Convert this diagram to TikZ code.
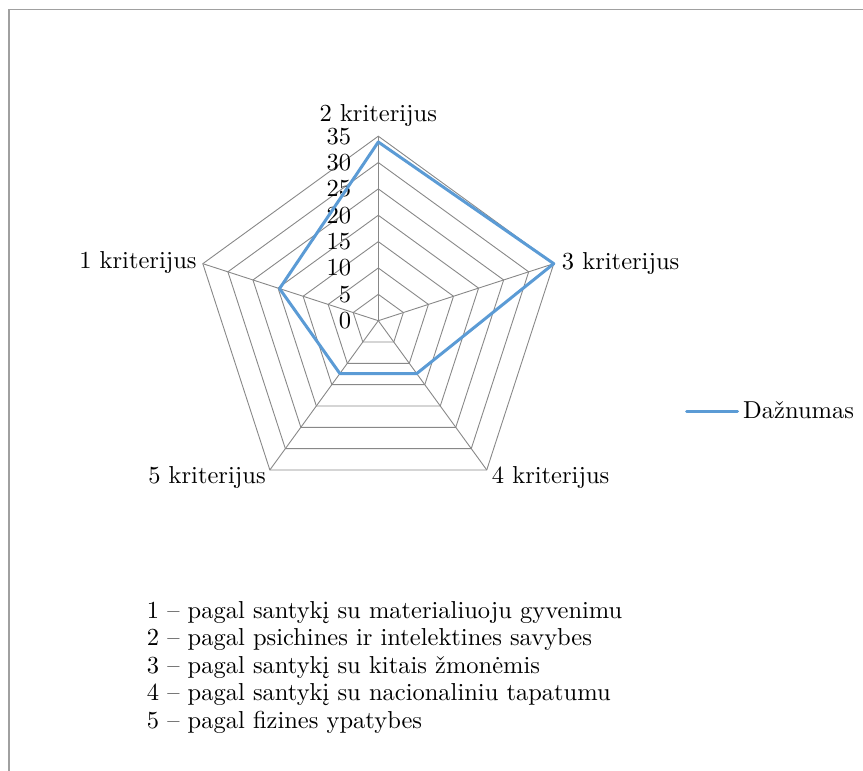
\documentclass[tikz,border=0pt]{standalone}
\usepackage{fontspec}
\setmainfont{lmroman10-regular}[Extension=.otf, Ligatures=TeX]
\usetikzlibrary{calc}
\definecolor{gridgray}{HTML}{888888}
\definecolor{serblue}{HTML}{5B9BD5}
\definecolor{framegray}{HTML}{A0A0A0}
\begin{document}
\begin{tikzpicture}[x=1pt,y=1pt,
  lbl/.style={font=\fontsize{24.5}{29}\selectfont, inner sep=0pt, text=black},
  gridline/.style={draw=gridgray, line width=0.9pt},
  series/.style={draw=serblue, line width=3pt, line join=round},
  frameline/.style={draw=framegray, line width=1.6pt}]
\useasboundingbox (0,0) rectangle (863,771);
% frame
\coordinate (fa) at (8.7,0);
\coordinate (fb) at (8.7,761.3);
\coordinate (fc) at (863,761.3);
\draw[frameline] (fa) -- (fb) -- (fc);
\def\u{5.2714}
\def\ring{26.357}
\begin{scope}[shift={(378.3,450.3)}]
  \coordinate (c) at (0,0);
  % rings
  \foreach \k in {1,...,7}{
    \draw[gridline] (90:{\k*\ring}) -- (18:{\k*\ring}) -- (-54:{\k*\ring}) -- (234:{\k*\ring}) -- (162:{\k*\ring}) -- cycle;
  }
  % vertices
  \coordinate (v1) at (162:{7*\ring});
  \coordinate (v2) at (90:{7*\ring});
  \coordinate (v3) at (18:{7*\ring});
  \coordinate (v4) at (-54:{7*\ring});
  \coordinate (v5) at (234:{7*\ring});
  % spokes
  \foreach \i in {1,...,5}{ \draw[gridline] (c) -- (v\i); }
  % tick labels
  \foreach \k/\v in {0/0,1/5,2/10,3/15,4/20,5/25,6/30,7/35}{
    \node[lbl, anchor=east] (tk\k) at (-27,{\k*\ring}) {\v};
  }
  % data
  \coordinate (d1) at (162:{19.7*\u});
  \coordinate (d2) at (90:{33.9*\u});
  \coordinate (d3) at (18:{35*\u});
  \coordinate (d4) at (-54:{12.4*\u});
  \coordinate (d5) at (234:{12.4*\u});
  \draw[series] (d1) -- (d2) -- (d3) -- (d4) -- (d5) -- cycle;
\end{scope}
% axis labels
\node[lbl, anchor=base] (a2) at ($(v2)+(0,15)$) {2 kriterijus};
\node[lbl, anchor=base west] (a3) at ($(v3)+(8,-6)$) {3 kriterijus};
\node[lbl, anchor=base west] (a4) at ($(v4)+(5,-14)$) {4 kriterijus};
\node[lbl, anchor=base east] (a5) at ($(v5)+(-4,-14)$) {5 kriterijus};
\node[lbl, anchor=base east] (a1) at ($(v1)+(-6,-5)$) {1 kriterijus};
% legend
\coordinate (l1) at (686.5,359);
\coordinate (l2) at (737.5,359);
\draw[series, line cap=round] (l1) -- (l2);
\node[lbl, anchor=base west] (leg) at (743,352.7) {Dažnumas};
% list
\node[lbl, anchor=base west] (n1) at (146.7,152.7) {1 – pagal santykį su materialiuoju gyvenimu};
\node[lbl, anchor=base west] (n2) at (146.7,125) {2 – pagal psichines ir intelektines savybes};
\node[lbl, anchor=base west] (n3) at (146.7,97.7) {3 – pagal santykį su kitais žmonėmis};
\node[lbl, anchor=base west] (n4) at (146.7,70) {4 – pagal santykį su nacionaliniu tapatumu};
\node[lbl, anchor=base west] (n5) at (146.7,42.7) {5 – pagal fizines ypatybes};
\end{tikzpicture}
\end{document}
